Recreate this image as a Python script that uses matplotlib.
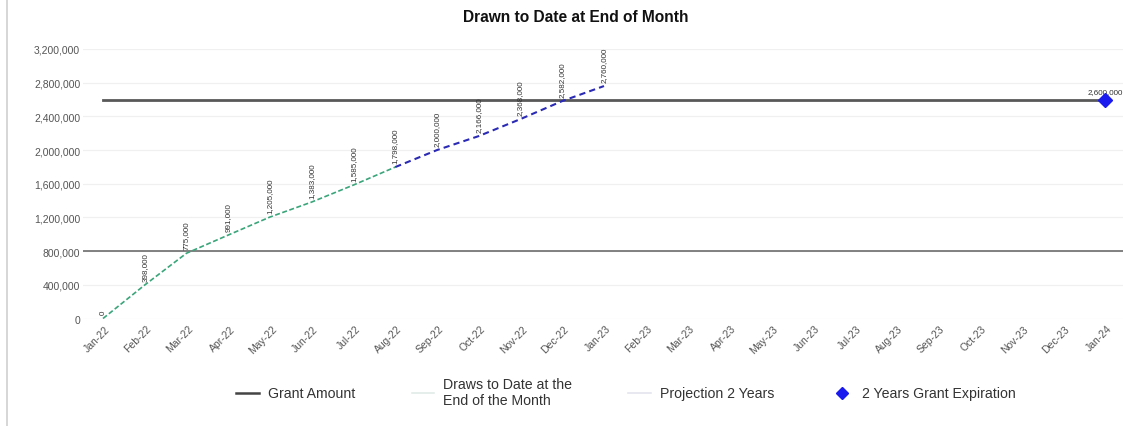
import matplotlib
matplotlib.use("Agg")
import matplotlib.pyplot as plt
import matplotlib.transforms as mtransforms
from matplotlib.lines import Line2D
from matplotlib.ticker import FuncFormatter

plt.rcParams['font.family'] = ['Liberation Sans', 'DejaVu Sans']

# ---- data -------------------------------------------------------------
months = ['Jan-22', 'Feb-22', 'Mar-22', 'Apr-22', 'May-22', 'Jun-22', 'Jul-22',
          'Aug-22', 'Sep-22', 'Oct-22', 'Nov-22', 'Dec-22', 'Jan-23', 'Feb-23',
          'Mar-23', 'Apr-23', 'May-23', 'Jun-23', 'Jul-23', 'Aug-23', 'Sep-23',
          'Oct-23', 'Nov-23', 'Dec-23', 'Jan-24']

draws_months = months[0:8]
draws_values = [0, 398000, 775000, 991000, 1205000, 1383000, 1585000, 1798000]

projection_months = months[7:13]
projection_values = [1798000, 2000000, 2166000, 2368000, 2582000, 2760000]

grant_amount = 2600000
reference_level = 800000
expiration_month = 'Jan-24'
expiration_value = 2600000

y_ticks = [0, 400000, 800000, 1200000, 1600000, 2000000, 2400000, 2800000, 3200000]

# ---- figure -----------------------------------------------------------
W, H = 1123, 427
fig = plt.figure(figsize=(W / 100, H / 100), dpi=100)
ax = fig.add_axes([83 / W, 1 - 319.5 / H, 1 - 83 / W, (319.5 - 50) / H])

idx = {m: i for i, m in enumerate(months)}
dx = [idx[m] for m in draws_months]
px = [idx[m] for m in projection_months]

# gridlines
for v in y_ticks:
    ax.axhline(v, color='#f0f0f0', lw=0.9, zorder=0)
ax.axhline(reference_level, color='#777777', lw=1.3, zorder=1)

# grant amount across the whole period
ax.plot(range(len(months)), [grant_amount] * len(months),
        color='#585858', lw=2.0, zorder=2)

ax.plot(dx, draws_values, color='#3aa57a', lw=1.2, ls=(0, (3, 1.5)), zorder=3)
ax.plot(px, projection_values, color='#2a2ab5', lw=1.5, ls=(0, (3, 2)), zorder=3)
ax.plot([idx[expiration_month]], [expiration_value], marker='D', ms=7,
        color='#1a1aee', ls='none', zorder=4)

# data labels
label_pts = list(zip(dx, draws_values)) + list(zip(px[1:], projection_values[1:]))
for x, v in label_pts:
    ax.annotate(f'{v:,}', (x, v), xytext=(0, 3), textcoords='offset points',
                rotation=90, ha='center', va='bottom', fontsize=5.8,
                color='#333333')
ax.annotate(f'{expiration_value:,}', (idx[expiration_month], expiration_value),
            xytext=(0, 3), textcoords='offset points', ha='center',
            va='bottom', fontsize=5.8, color='#333333')

ax.set_xlim(-0.479, 24.431)
ax.set_ylim(0, 3200000)
ax.set_yticks(y_ticks)
ax.yaxis.set_major_formatter(FuncFormatter(lambda v, p: f'{int(v):,}'))
ax.set_xticks(range(len(months)))
ax.set_xticklabels(months, rotation=45, ha='right', va='center',
                   rotation_mode='anchor')
ax.tick_params(axis='both', length=0, labelsize=7.5, labelcolor='#555555')
ax.tick_params(axis='x', pad=6)
ax.tick_params(axis='y', pad=2)
offset = mtransforms.ScaledTranslation(5 / 100, 0, fig.dpi_scale_trans)
for lab in ax.get_xticklabels():
    lab.set_transform(lab.get_transform() + offset)
for s in ax.spines.values():
    s.set_visible(False)

# title
fig.text(576 / W, 1 - 18 / H, 'Drawn to Date at End of Month',
         ha='center', va='center', fontsize=11.2, fontweight='bold',
         color='#111111')

# legend
handles = [
    Line2D([], [], color='#444444', lw=1.8),
    Line2D([], [], color='#e2ebe7', lw=1.2),
    Line2D([], [], color='#e4e4ee', lw=1.2),
    Line2D([], [], color='#1a1aee', marker='D', ms=6, ls='none'),
]
labels = ['Grant Amount', 'Draws to Date at the\nEnd of the Month',
          'Projection 2 Years', '2 Years Grant Expiration']
fig.legend(handles, labels, loc='center', bbox_to_anchor=(626 / W, 1 - 393 / H),
           ncol=4, frameon=False, fontsize=10.2, columnspacing=4.0,
           handlelength=1.6, handletextpad=0.6, labelcolor='#333333')

# left frame edge
fig.add_artist(Line2D([7 / W, 7 / W], [0, 1], color='#cfcfcf', lw=1.2,
                      transform=fig.transFigure))

fig.savefig('out.png', dpi=100)
